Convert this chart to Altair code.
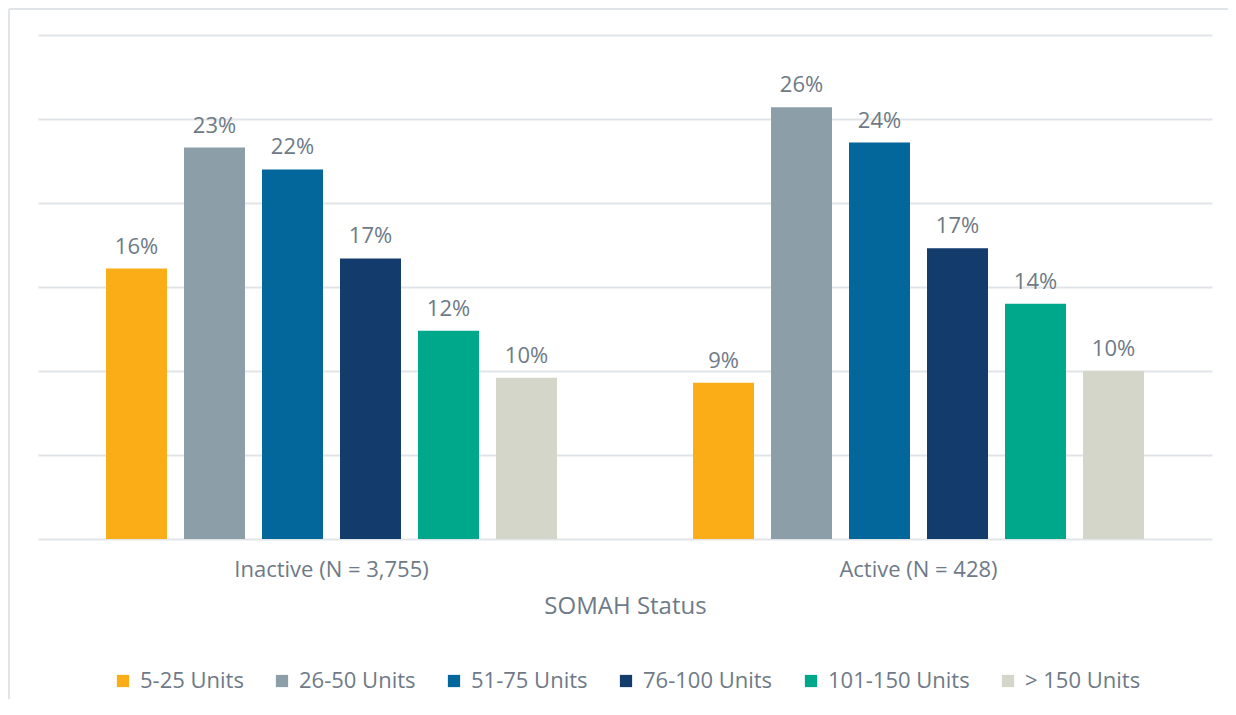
import altair as alt
import pandas as pd

statuses = ["Inactive (N = 3,755)", "Active (N = 428)"]
sizes = ["5-25 Units", "26-50 Units", "51-75 Units", "76-100 Units", "101-150 Units", "> 150 Units"]
inactive_vals = [16.1, 23.3, 22.0, 16.7, 12.4, 9.6]
active_vals = [9.3, 25.7, 23.6, 17.3, 14.0, 10.0]
colors = ["#FBAD18", "#8C9FA8", "#04679C", "#133B6C", "#00A88B", "#D5D6CA"]

rows = []
for st, vals in zip(statuses, [inactive_vals, active_vals]):
    for s, v in zip(sizes, vals):
        rows.append({"status": st, "size": s, "value": v, "label": f"{round(v)}%"})
df = pd.DataFrame(rows)

FONT = "Open Sans"
TXT = "#6E7A87"

x = alt.X("status:N", sort=statuses, title="SOMAH Status",
          scale=alt.Scale(paddingInner=0, paddingOuter=0),
          axis=alt.Axis(labelAngle=0, ticks=False, domain=False, labelPadding=20,
                        titlePadding=14, labelFontSize=22, titleFontSize=24, labelLimit=0,
                        labelColor=TXT, titleColor=TXT, labelFont=FONT, titleFont=FONT,
                        titleFontWeight="normal"))
xo = alt.XOffset("size:N", sort=sizes, scale=alt.Scale(paddingInner=0.218, paddingOuter=0.872))
y = alt.Y("value:Q", scale=alt.Scale(domain=[0, 30], nice=False),
          axis=alt.Axis(values=[0, 5, 10, 15, 20, 25, 30], labels=False, ticks=False,
                        domain=False, title=None, gridColor="#E1E4E8", gridWidth=2))

base = alt.Chart(df)
bars = base.mark_bar().encode(
    x=x, xOffset=xo, y=y,
    color=alt.Color("size:N", sort=sizes,
                    scale=alt.Scale(domain=sizes, range=colors),
                    legend=alt.Legend(title=None, orient="none", direction="horizontal",
                                      columns=6, legendX=74, legendY=635,
                                      symbolType="square", symbolSize=150,
                                      symbolStrokeWidth=0, labelFontSize=22,
                                      labelFont=FONT, labelColor=TXT,
                                      columnPadding=27, labelOffset=6)),
)
labels = base.mark_text(baseline="alphabetic", dy=-15, fontSize=22, font=FONT, color=TXT).encode(
    x=x, xOffset=xo, y=y, text="label:N"
)

frame_df = pd.DataFrame({"a": [0]})
left_line = alt.Chart(frame_df).mark_rule(color="#E1E4E8", strokeWidth=2).encode(
    x=alt.value(-29), y=alt.value(-26), y2=alt.value(700)
)
top_line = alt.Chart(frame_df).mark_rule(color="#E1E4E8", strokeWidth=2).encode(
    x=alt.value(-29), x2=alt.value(1200), y=alt.value(-26)
)

chart = alt.layer(bars, labels, left_line, top_line).properties(
    width=1174, height=504,
    autosize=alt.AutoSizeParams(type="none"),
    padding={"left": 30, "top": 27, "right": 16, "bottom": 160},
).configure(background="white").configure_view(strokeWidth=0, stroke=None)

chart.save("out.html", embed_options={"renderer": "svg", "actions": False})
